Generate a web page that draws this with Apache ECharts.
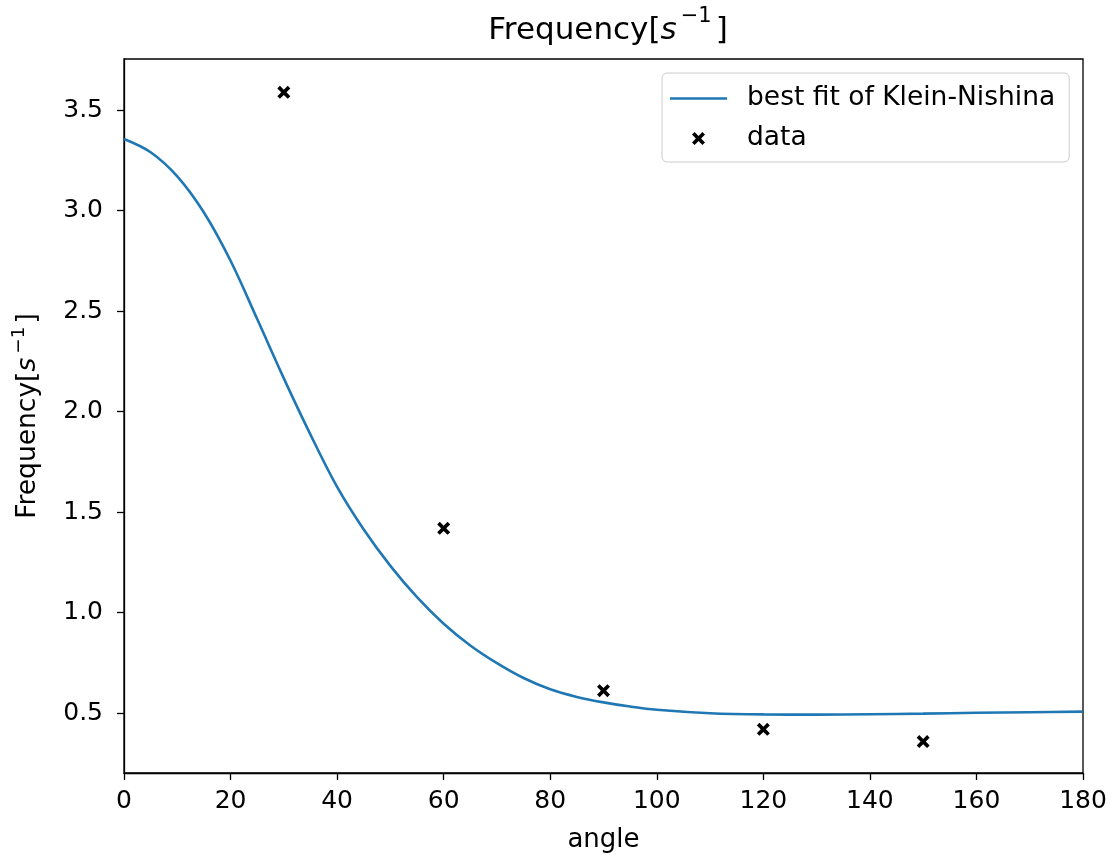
<!DOCTYPE html>
<html>
<head>
<meta charset="utf-8">
<script src="https://cdn.jsdelivr.net/npm/echarts@6/dist/echarts.min.js"></script>
<style>
  html, body { margin: 0; padding: 0; background: #fff; }
  #chart { width: 1112px; height: 857px; }
</style>
</head>
<body>
<div id="chart"></div>
<script>
// Fitted curve
const fitAngles = [0, 5, 10, 15, 20, 25, 30, 35, 40, 45, 50, 55, 60, 65, 70, 75, 80, 85, 90, 95, 100, 110, 120, 130, 140, 150, 160, 170, 180];
const fitValues = [3.356, 3.29, 3.17, 2.99, 2.75, 2.46, 2.165, 1.885, 1.625, 1.413, 1.232, 1.076, 0.944, 0.836, 0.748, 0.674, 0.618, 0.580, 0.553, 0.532, 0.516, 0.499, 0.493, 0.492, 0.494, 0.497, 0.501, 0.504, 0.507];
// Measured data
const dataAngles = [30, 60, 90, 120, 150];
const dataValues = [3.588, 1.419, 0.611, 0.419, 0.358];
// Axis ticks
const yTicks = [0.5, 1.0, 1.5, 2.0, 2.5, 3.0, 3.5];

const FONT = 'DejaVu Sans';
const xMarker = 'path://M0,2 L2,0 L5,3 L8,0 L10,2 L7,5 L10,8 L8,10 L5,7 L2,10 L0,8 L3,5 Z';
const lineIcon = 'path://M0,0 H57 V2.6 H0 Z';

const chart = echarts.init(document.getElementById('chart'), null, { renderer: 'canvas' });
const option = {
  animation: false,
  backgroundColor: '#fff',
  title: {
    text: '{a|Frequency[}{i|s}{sup|−1}{a|]}',
    left: 603,
    textAlign: 'center',
    top: 1,
    textStyle: {
      rich: {
        a: { fontFamily: FONT, fontSize: 31, fontWeight: 'normal', color: '#000', lineHeight: 40, verticalAlign: 'bottom' },
        i: { fontFamily: FONT, fontSize: 31, fontWeight: 'normal', color: '#000', fontStyle: 'italic', lineHeight: 40, verticalAlign: 'bottom', padding: [0, 2, 0, 0] },
        sup: { fontFamily: FONT, fontSize: 21, fontWeight: 'normal', color: '#000', lineHeight: 40, verticalAlign: 'top', padding: [0, 4, 0, 2] }
      }
    }
  },
  legend: {
    orient: 'vertical',
    left: 662,
    top: 73,
    padding: [12, 14, 10, 8],
    itemWidth: 57,
    itemHeight: 13,
    itemGap: 13,
    symbolKeepAspect: true,
    borderColor: '#cccccc',
    borderWidth: 1,
    borderRadius: 5,
    backgroundColor: 'rgba(255,255,255,0.8)',
    textStyle: { fontFamily: FONT, fontSize: 26.5, color: '#000', lineHeight: 26, padding: [0, 0, 0, 15] },
    data: [
      { name: 'best fit of Klein-Nishina', icon: lineIcon },
      { name: 'data', icon: xMarker }
    ]
  },
  grid: {
    left: 124, right: 29, top: 59, bottom: 84,
    outerBoundsMode: 'none',
    containLabel: false,
    show: true, borderColor: '#000', borderWidth: 1.3, backgroundColor: 'transparent'
  },
  xAxis: {
    type: 'value',
    min: 0, max: 180, interval: 20,
    name: 'angle',
    nameLocation: 'middle',
    nameGap: 54,
    nameTextStyle: { fontFamily: FONT, fontSize: 26, color: '#000' },
    axisLine: { show: true, lineStyle: { color: '#000', width: 1.3 } },
    axisTick: { show: true, inside: false, length: 7, lineStyle: { color: '#000', width: 1.3 } },
    axisLabel: { fontFamily: FONT, fontSize: 25, color: '#000', margin: 16, showMinLabel: true, showMaxLabel: true },
    splitLine: { show: false }
  },
  yAxis: {
    type: 'value',
    min: 0.2015, max: 3.754,
    name: '{a|Frequency[}{i|s}{sup|−1}{a|]}',
    nameLocation: 'middle',
    nameRotate: 90,
    nameGap: 82,
    nameTextStyle: {
      rich: {
        a: { fontFamily: FONT, fontSize: 26.5, color: '#000', lineHeight: 32, verticalAlign: 'bottom' },
        i: { fontFamily: FONT, fontSize: 26.5, color: '#000', fontStyle: 'italic', lineHeight: 32, verticalAlign: 'bottom', padding: [0, 2, 0, 0] },
        sup: { fontFamily: FONT, fontSize: 18.5, color: '#000', lineHeight: 32, verticalAlign: 'top', padding: [0, 3, 0, 2] }
      }
    },
    axisLine: { show: true, lineStyle: { color: '#000', width: 1.3 } },
    axisTick: { show: true, inside: false, length: 7, customValues: yTicks, lineStyle: { color: '#000', width: 1.3 } },
    axisLabel: {
      fontFamily: FONT, fontSize: 25, color: '#000', margin: 21,
      customValues: yTicks,
      formatter: v => v.toFixed(1)
    },
    splitLine: { show: false }
  },
  series: [
    {
      name: 'best fit of Klein-Nishina',
      type: 'line',
      data: fitAngles.map((a, i) => [a, fitValues[i]]),
      smooth: 0.35,
      symbol: 'none',
      lineStyle: { color: '#1f77b4', width: 2.6 },
      itemStyle: { color: '#1f77b4' },
      z: 2
    },
    {
      name: 'data',
      type: 'scatter',
      data: dataAngles.map((a, i) => [a, dataValues[i]]),
      symbol: xMarker,
      symbolSize: 13,
      itemStyle: { color: '#000', opacity: 1 },
      z: 3
    }
  ]
};
chart.setOption(option);
</script>
</body>
</html>
